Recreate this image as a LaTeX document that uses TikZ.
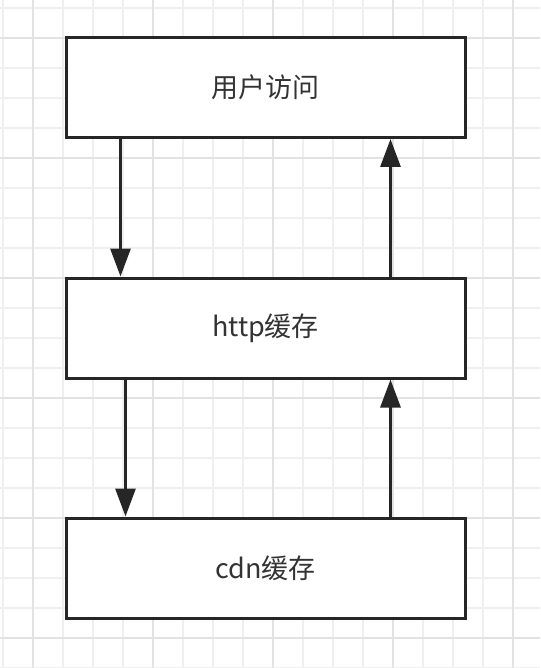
\documentclass[tikz,border=0pt]{standalone}
\usepackage{fontspec}
\setmainfont{Noto Sans CJK SC}
\usetikzlibrary{arrows.meta}

\definecolor{gridminor}{HTML}{EFEFEF}
\definecolor{gridmajor}{HTML}{E2E2E2}
\definecolor{boxline}{HTML}{262626}
\definecolor{boxtext}{HTML}{333333}

\begin{document}
\begin{tikzpicture}[x=1pt,y=-1pt,
    cachebox/.style={draw=boxline, line width=3pt, fill=white,
      minimum width=399pt, minimum height=100pt, inner sep=0pt,
      text=boxtext, font=\fontsize{27}{31}\selectfont},
    flow/.style={draw=boxline, line width=3pt,
      -{Triangle[length=28pt,width=20pt]}}]

    \useasboundingbox (0,0) rectangle (540,668);
    \fill[white] (0,0) rectangle (540,668);

    % grid
    \foreach \gx in {3,33,...,513}
      \draw[gridminor, line width=1.2pt] (\gx,0) -- (\gx,668);
    \foreach \gy in {8,38,...,668}
      \draw[gridminor, line width=1.2pt] (0,\gy) -- (540,\gy);
    \foreach \gx in {33,153,...,513}
      \draw[gridmajor, line width=1.4pt] (\gx,0) -- (\gx,668);
    \foreach \gy in {38,158,...,638}
      \draw[gridmajor, line width=1.4pt] (0,\gy) -- (540,\gy);

    % boxes
    \node[cachebox] (user) at (265.5,87.5) {用户访问};
    \node[cachebox] (http) at (265.5,328) {http缓存};
    \node[cachebox] (cdn)  at (265.5,568) {cdn缓存};

    % arrows
    \draw[flow] ([xshift=56pt]user.south west) -- ([xshift=56pt]http.north west);
    \draw[flow] ([xshift=326pt]http.north west) -- ([xshift=326pt]user.south west);
    \draw[flow] ([xshift=61pt]http.south west) -- ([xshift=61pt]cdn.north west);
    \draw[flow] ([xshift=326pt]cdn.north west) -- ([xshift=326pt]http.south west);

\end{tikzpicture}
\end{document}
